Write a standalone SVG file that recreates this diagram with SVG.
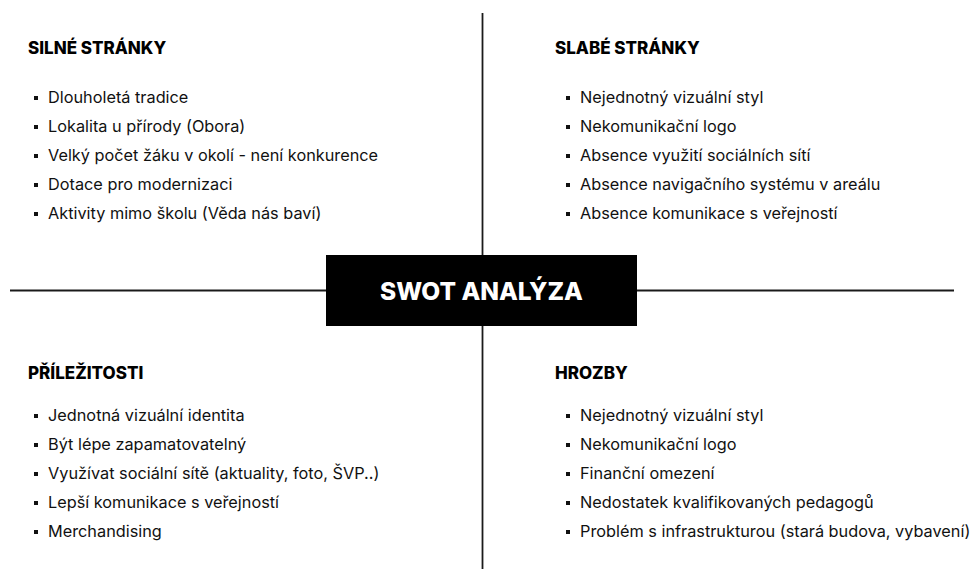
<svg xmlns="http://www.w3.org/2000/svg" width="976" height="569" viewBox="0 0 976 569">
<style>
.h{font-family:Inter,"Liberation Sans",sans-serif;font-weight:800;font-size:17px;fill:#000}
.t{font-family:Inter,"Liberation Sans",sans-serif;font-size:16.3px;fill:#111}
.b{fill:#111}
.ln{stroke:#1a1a1a;stroke-width:1.8;fill:none}
.title{font-family:Inter,"Liberation Sans",sans-serif;font-weight:800;font-size:24.5px;fill:#fff}
</style>
<rect width="976" height="569" fill="#fff"/>
<g id="connectors">
<line class="ln" x1="482.5" y1="13" x2="482.5" y2="255"/>
<line class="ln" x1="482.5" y1="326" x2="482.5" y2="569"/>
<line class="ln" x1="10" y1="290.5" x2="326" y2="290.5"/>
<line class="ln" x1="637" y1="290.5" x2="954" y2="290.5"/>
</g>
<g id="center">
<rect x="326" y="255" width="311" height="71" fill="#000"/>
<text class="title" x="481.5" y="300" text-anchor="middle">SWOT ANALÝZA</text>
</g>
<g id="strengths">
<text class="h" x="28" y="54">SILNÉ STRÁNKY</text>
<rect class="b" x="34" y="96" width="4" height="4"/>
<rect class="b" x="34" y="125" width="4" height="4"/>
<rect class="b" x="34" y="154" width="4" height="4"/>
<rect class="b" x="34" y="183" width="4" height="4"/>
<rect class="b" x="34" y="212" width="4" height="4"/>
<text class="t" x="48" y="103">Dlouholetá tradice</text>
<text class="t" x="48" y="132">Lokalita u přírody (Obora)</text>
<text class="t" x="48" y="161">Velký počet žáku v okolí - není konkurence</text>
<text class="t" x="48" y="190">Dotace pro modernizaci</text>
<text class="t" x="48" y="219">Aktivity mimo školu (Věda nás baví)</text>
</g>
<g id="weaknesses">
<text class="h" x="555" y="54">SLABÉ STRÁNKY</text>
<rect class="b" x="566" y="96" width="4" height="4"/>
<rect class="b" x="566" y="125" width="4" height="4"/>
<rect class="b" x="566" y="154" width="4" height="4"/>
<rect class="b" x="566" y="183" width="4" height="4"/>
<rect class="b" x="566" y="212" width="4" height="4"/>
<text class="t" x="580" y="103">Nejednotný vizuální styl</text>
<text class="t" x="580" y="132">Nekomunikační logo</text>
<text class="t" x="580" y="161">Absence využití sociálních sítí</text>
<text class="t" x="580" y="190">Absence navigačního systému v areálu</text>
<text class="t" x="580" y="219">Absence komunikace s veřejností</text>
</g>
<g id="opportunities">
<text class="h" x="28" y="379">PŘÍLEŽITOSTI</text>
<rect class="b" x="34" y="414" width="4" height="4"/>
<rect class="b" x="34" y="443" width="4" height="4"/>
<rect class="b" x="34" y="472" width="4" height="4"/>
<rect class="b" x="34" y="501" width="4" height="4"/>
<rect class="b" x="34" y="530" width="4" height="4"/>
<text class="t" x="48" y="421">Jednotná vizuální identita</text>
<text class="t" x="48" y="450">Být lépe zapamatovatelný</text>
<text class="t" x="48" y="479">Využívat sociální sítě (aktuality, foto, ŠVP..)</text>
<text class="t" x="48" y="508">Lepší komunikace s veřejností</text>
<text class="t" x="48" y="537">Merchandising</text>
</g>
<g id="threats">
<text class="h" x="555" y="379">HROZBY</text>
<rect class="b" x="566" y="414" width="4" height="4"/>
<rect class="b" x="566" y="443" width="4" height="4"/>
<rect class="b" x="566" y="472" width="4" height="4"/>
<rect class="b" x="566" y="501" width="4" height="4"/>
<rect class="b" x="566" y="530" width="4" height="4"/>
<text class="t" x="580" y="421">Nejednotný vizuální styl</text>
<text class="t" x="580" y="450">Nekomunikační logo</text>
<text class="t" x="580" y="479">Finanční omezení</text>
<text class="t" x="580" y="508">Nedostatek kvalifikovaných pedagogů</text>
<text class="t" x="580" y="537">Problém s infrastrukturou (stará budova, vybavení)</text>
</g>
</svg>
